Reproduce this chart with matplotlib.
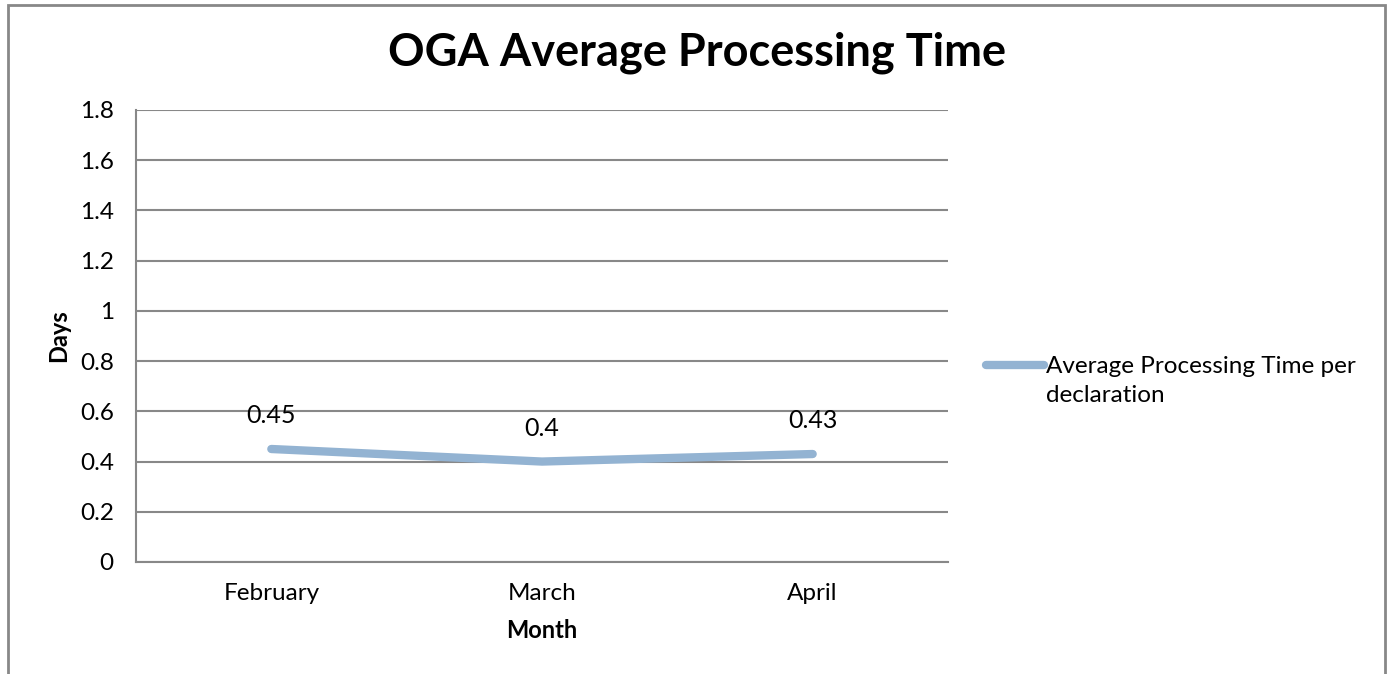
import matplotlib.pyplot as plt
from matplotlib.patches import Rectangle
from matplotlib.legend_handler import HandlerLine2D

# Dados
meses = ["February", "March", "April"]
tempo_medio = [0.45, 0.4, 0.43]
rotulos = ["0.45", "0.4", "0.43"]
serie = "Average Processing Time per\ndeclaration"

plt.rcParams["font.family"] = ["Lato", "DejaVu Sans"]


# marcador da legenda alinhado com a primeira linha do texto
class HandlerPrimeiraLinha(HandlerLine2D):
    def create_artists(self, legend, orig_handle, xdescent, ydescent,
                       width, height, fontsize, trans):
        artistas = super().create_artists(legend, orig_handle, xdescent, ydescent,
                                          width, height, fontsize, trans)
        for a in artistas:
            a.set_ydata([y + 12 for y in a.get_ydata()])
        return artistas


fig = plt.figure(figsize=(13.93, 6.74), dpi=100)
ax = fig.add_axes([136 / 1393, 1 - 562 / 674, (948 - 136) / 1393, (562 - 110) / 674])

x = list(range(len(meses)))
linha, = ax.plot(x, tempo_medio, color="#93B3D2", linewidth=6, solid_capstyle="round", label=serie)
for xi, yi, txt in zip(x, tempo_medio, rotulos):
    ax.annotate(txt, (xi, yi), xytext=(0, 24), textcoords="offset points",
                ha="center", va="center", fontsize=18)

ax.set_xlim(-0.5, 2.5)
ax.set_ylim(0, 1.8)
ax.set_yticks([0, 0.2, 0.4, 0.6, 0.8, 1, 1.2, 1.4, 1.6, 1.8])
ax.set_yticklabels(["0", "0.2", "0.4", "0.6", "0.8", "1", "1.2", "1.4", "1.6", "1.8"])
ax.set_xticks(x)
ax.set_xticklabels(meses)
ax.tick_params(axis="y", length=0, labelsize=17.5, pad=16)
ax.tick_params(axis="x", length=0, labelsize=17.5, pad=15)
ax.yaxis.grid(True, color="#888888", linewidth=1.5)
ax.set_axisbelow(True)
for lado in ["top", "right"]:
    ax.spines[lado].set_visible(False)
for lado in ["left", "bottom"]:
    ax.spines[lado].set_color("#888888")
    ax.spines[lado].set_linewidth(1.5)

ax.set_xlabel("Month", fontsize=17, fontweight="bold", labelpad=11)
ax.set_ylabel("Days", fontsize=17, fontweight="bold", labelpad=7)
fig.text(697 / 1393, 1 - 53 / 674, "OGA Average Processing Time",
         ha="center", va="center", fontsize=32.5, fontweight="bold")

leg = ax.legend(loc="center left", bbox_to_anchor=(1.02, 0.4), frameon=False,
                fontsize=17.5, handlelength=2.4, handletextpad=0.05,
                handler_map={linha: HandlerPrimeiraLinha()})
leg.get_texts()[0].set_linespacing(1.45)

# borda da figura
fig.patches.append(Rectangle((8 / 1393, -0.05), (1385 - 8) / 1393, 1.05 - 5 / 674,
                             transform=fig.transFigure, fill=False,
                             edgecolor="#888888", linewidth=2))

plt.savefig("out.png", dpi=100)
